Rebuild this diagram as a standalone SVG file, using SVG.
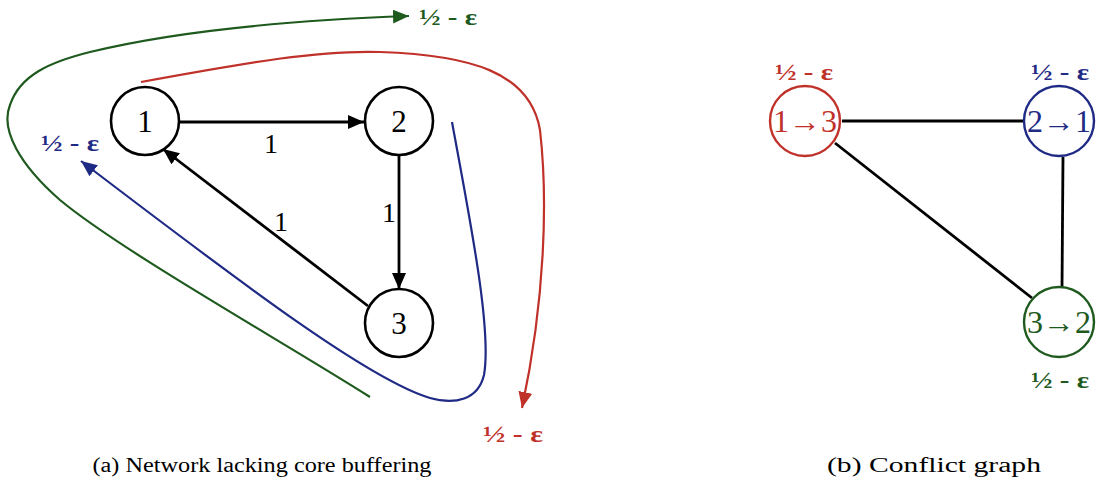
<svg xmlns="http://www.w3.org/2000/svg" width="1099" height="491" viewBox="0 0 1099 491">
<style>
.node{fill:#fff;stroke:#000;stroke-width:2.6}
.num{font-family:"Liberation Serif",serif;font-size:31px;text-anchor:middle;fill:#000}
.lab{font-family:"Liberation Serif",serif;font-size:28px;text-anchor:middle;fill:#000}
.edge{stroke:#000;stroke-width:2.8;fill:none}
.frac{font-family:"Liberation Serif",serif;font-size:24px;font-weight:bold;text-anchor:middle}
.cap{font-family:"Liberation Serif",serif;font-size:20px;text-anchor:middle;fill:#000}
.red{fill:#c0312a}.blue{fill:#1f2a85}.green{fill:#1e5a1e}
.cnode{fill:#fff;stroke-width:2.4}
.ctext{font-family:"Liberation Serif",serif;font-size:31px;text-anchor:middle}
</style>
<defs>
<marker id="ak" markerUnits="userSpaceOnUse" markerWidth="18" markerHeight="14" refX="16" refY="7" orient="auto"><path d="M0,0 L16,7 L0,14 z" fill="#000"/></marker>
<marker id="ar" markerUnits="userSpaceOnUse" markerWidth="18" markerHeight="14" refX="16" refY="7" orient="auto"><path d="M0,0 L16,7 L0,14 z" fill="#c0312a"/></marker>
<marker id="ab" markerUnits="userSpaceOnUse" markerWidth="18" markerHeight="14" refX="16" refY="7" orient="auto"><path d="M0,0 L16,7 L0,14 z" fill="#1f2a85"/></marker>
<marker id="ag" markerUnits="userSpaceOnUse" markerWidth="18" markerHeight="14" refX="16" refY="7" orient="auto"><path d="M0,0 L16,7 L0,14 z" fill="#1e5a1e"/></marker>
</defs>
<g id="connectors">
<path class="edge" d="M180,122 L364,122" marker-end="url(#ak)"/>
<path class="edge" d="M399,155 L399,289" marker-end="url(#ak)"/>
<path class="edge" d="M368,306 L163,149" marker-end="url(#ak)"/>
<path d="M141,82 C 250,62 320,50 380,52 C 470,55 530,72 540,130 C 548,200 545,300 522,408" fill="none" stroke="#c0312a" stroke-width="2.2" marker-end="url(#ar)"/>
<path d="M370,397 C 280,340 120,250 60,200 C 20,165 0,130 10,105 C 20,75 50,62 90,52 C 180,30 300,20 409,16" fill="none" stroke="#1e5a1e" stroke-width="2.2" marker-end="url(#ag)"/>
<path d="M452,122 C 470,220 492,330 484,375 C 478,400 455,405 430,398 C 370,380 250,290 81,161" fill="none" stroke="#1f2a85" stroke-width="2.2" marker-end="url(#ab)"/>
<path class="edge" d="M842,121 L1023,121"/>
<path class="edge" d="M835,143 L1032,298"/>
<path class="edge" d="M1063,157 L1062,288"/>
</g>
<g id="edge-labels">
<text class="lab" x="271" y="153">1</text>
<text class="lab" x="389" y="222">1</text>
<text class="lab" x="281" y="231">1</text>
</g>
<g id="node1"><circle class="node" cx="145" cy="121" r="34"/><text class="num" x="145" y="132">1</text></g>
<g id="node2"><circle class="node" cx="399" cy="121" r="34"/><text class="num" x="399" y="132">2</text></g>
<g id="node3"><circle class="node" cx="399" cy="323" r="34"/><text class="num" x="399" y="334">3</text></g>
<g id="flow-labels">
<text class="frac green" x="448" y="25" textLength="58" lengthAdjust="spacingAndGlyphs">½ - ε</text>
<text class="frac blue" x="70" y="151" textLength="58" lengthAdjust="spacingAndGlyphs">½ - ε</text>
<text class="frac red" x="513" y="442" textLength="60" lengthAdjust="spacingAndGlyphs">½ - ε</text>
</g>
<g id="c13"><circle class="cnode" cx="805" cy="121" r="35" stroke="#c0312a"/><text class="ctext red" x="805" y="132" textLength="64" lengthAdjust="spacingAndGlyphs">1→3</text><text class="frac red" x="804" y="80" textLength="58" lengthAdjust="spacingAndGlyphs">½ - ε</text></g>
<g id="c21"><circle class="cnode" cx="1059" cy="121" r="35" stroke="#1f2a85"/><text class="ctext blue" x="1059" y="132" textLength="64" lengthAdjust="spacingAndGlyphs">2→1</text><text class="frac blue" x="1060" y="80" textLength="58" lengthAdjust="spacingAndGlyphs">½ - ε</text></g>
<g id="c32"><circle class="cnode" cx="1059" cy="322" r="35" stroke="#1e5a1e"/><text class="ctext green" x="1059" y="333" textLength="64" lengthAdjust="spacingAndGlyphs">3→2</text><text class="frac green" x="1060" y="388" textLength="58" lengthAdjust="spacingAndGlyphs">½ - ε</text></g>
<g id="captions">
<text class="cap" x="262" y="472" textLength="339" lengthAdjust="spacingAndGlyphs">(a) Network lacking core buffering</text>
<text class="cap" x="934" y="472" textLength="214" lengthAdjust="spacingAndGlyphs">(b) Conflict graph</text>
</g>
</svg>
